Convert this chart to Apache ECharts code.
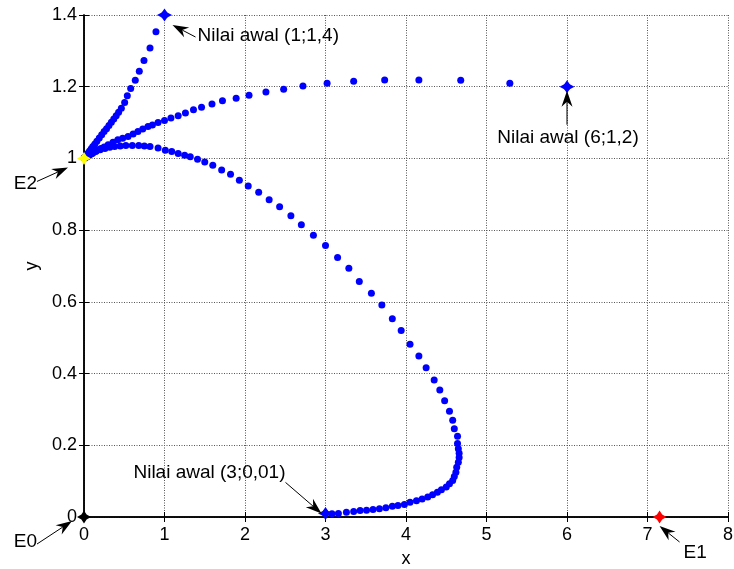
<!DOCTYPE html>
<html><head><meta charset="utf-8">
<script src="https://cdn.jsdelivr.net/npm/echarts@6/dist/echarts.min.js"></script>
<style>html,body{margin:0;padding:0;background:#fff}#c{width:734px;height:569px}</style>
</head><body><div id="c"></div>
<script>
// ---- data ----
const xTicks = [0,1,2,3,4,5,6,7,8];
const yTicks = [0,0.2,0.4,0.6,0.8,1,1.2,1.4];

// trajectory from initial value (1;1,4)
const trajA = [
 [1.0,1.4],[0.894,1.353],[0.82,1.308],[0.745,1.273],[0.687,1.243],[0.637,1.218],[0.58,1.195],
 [0.538,1.175],[0.505,1.156],[0.464,1.14],[0.43,1.129],[0.40,1.119],[0.37,1.11],[0.34,1.101],
 [0.31,1.092],[0.28,1.083],[0.25,1.075],[0.22,1.066],[0.19,1.057],[0.16,1.048],[0.135,1.04],
 [0.11,1.033],[0.09,1.027],[0.07,1.021],[0.055,1.016],[0.04,1.012],[0.028,1.008],[0.018,1.005],
 [0.01,1.003],[0.004,1.001]
];
// trajectory from initial value (6;1,2)
const trajB = [
 [6.0,1.2],[5.29,1.21],[4.68,1.218],[4.16,1.219],[3.735,1.219],[3.35,1.215],[3.02,1.21],[2.72,1.202],
 [2.48,1.193],[2.26,1.185],[2.05,1.176],[1.89,1.168],[1.72,1.161],[1.59,1.152],[1.46,1.143],
 [1.36,1.136],[1.26,1.127],[1.17,1.119],[1.08,1.113],[1.0,1.106],[0.92,1.1],[0.85,1.093],
 [0.795,1.089],[0.73,1.082],[0.67,1.075],[0.61,1.068],[0.547,1.061],[0.48,1.056],[0.42,1.052],
 [0.36,1.045],[0.3,1.038],[0.25,1.032],[0.21,1.028],[0.174,1.024],[0.14,1.019],[0.11,1.015],
 [0.09,1.013],[0.07,1.01],[0.05,1.007],[0.035,1.005],[0.022,1.003],[0.012,1.002],[0.005,1.001]
];
// trajectory from initial value (3;0,01)
const trajC = [
 [3.0,0.01],[3.08,0.009],[3.16,0.01],[3.26,0.013],[3.35,0.015],[3.43,0.018],[3.51,0.019],
 [3.59,0.021],[3.67,0.023],[3.75,0.026],[3.83,0.03],[3.9,0.032],[3.98,0.035],[4.05,0.041],
 [4.13,0.045],[4.2,0.05],[4.27,0.056],[4.33,0.062],[4.39,0.069],[4.44,0.076],[4.5,0.084],
 [4.54,0.093],[4.58,0.102],[4.6,0.113],[4.62,0.125],[4.63,0.139],[4.65,0.153],[4.66,0.166],
 [4.66,0.178],[4.65,0.19],[4.64,0.205],[4.64,0.225],[4.6,0.246],[4.58,0.27],[4.54,0.295],
 [4.48,0.324],[4.42,0.354],[4.35,0.382],[4.25,0.416],[4.16,0.449],[4.05,0.482],[3.94,0.52],
 [3.83,0.553],[3.7,0.591],[3.57,0.624],[3.42,0.657],[3.29,0.694],[3.15,0.724],[3.0,0.757],
 [2.85,0.786],[2.7,0.815],[2.57,0.84],[2.43,0.865],[2.3,0.885],[2.17,0.906],[2.04,0.923],
 [1.93,0.939],[1.82,0.956],[1.71,0.968],[1.6,0.981],[1.5,0.99],[1.41,0.998],[1.32,1.005],
 [1.25,1.009],[1.17,1.014],[1.09,1.019],[1.01,1.023],[0.92,1.029],[0.82,1.033],[0.75,1.035],
 [0.68,1.036],[0.6,1.036],[0.52,1.036],[0.45,1.035],[0.38,1.033],[0.32,1.031],[0.26,1.028],
 [0.2,1.024],[0.15,1.02],[0.1,1.014],[0.07,1.01],[0.05,1.007],[0.03,1.004],[0.015,1.002],[0.005,1.001]
];
const startPoints = [[1,1.4],[6,1.2],[3,0.01]];
const startLabels = ['Nilai awal (1;1,4)','Nilai awal (6;1,2)','Nilai awal (3;0,01)'];
const eqNames = ['E0','E1','E2'];
const eqPoints = [[0,0],[7.15,0],[0,1]];

// ---- styles / layout ----
const FONT = 'Liberation Sans, Arial, sans-serif';
const BLUE = '#0000ff';
const STAR = 'path://M0,-7 L2.6,-2.6 L7,0 L2.6,2.6 L0,7 L-2.6,2.6 L-7,0 L-2.6,-2.6 Z';
const eqColors = ['#000000','#ff0000','#ffff00'];
const grid = {left:84, top:15, right:6, bottom:52, containLabel:false, outerBoundsMode:'none'};

const chart = echarts.init(document.getElementById('c'), null, {renderer:'canvas'});

function axisBase(){
  return {
    axisLine:{show:true,lineStyle:{color:'#000',width:1.5}},
    axisTick:{show:true,inside:true,length:5,lineStyle:{color:'#000',width:1}},
    splitLine:{show:false}
  };
}
const xMin = xTicks[0], xMax = xTicks[xTicks.length-1], xInt = xTicks[1]-xTicks[0];
const yMin = yTicks[0], yMax = yTicks[yTicks.length-1], yInt = +(yTicks[1]-yTicks[0]).toFixed(6);
const dotStyle = {color:BLUE,opacity:1};

const option = {
  animation:false,
  backgroundColor:'#fff',
  grid:grid,
  xAxis:[
    Object.assign(axisBase(),{
      type:'value',min:xMin,max:xMax,interval:xInt,position:'bottom',
      name:'x',nameLocation:'middle',nameGap:33,
      nameTextStyle:{fontFamily:FONT,fontSize:18,color:'#000'},
      axisLabel:{fontFamily:FONT,fontSize:18,color:'#000',margin:9},
      splitLine:{show:true,lineStyle:{color:'#555',type:[1,1.5],width:1}}
    }),
    Object.assign(axisBase(),{
      type:'value',min:xMin,max:xMax,interval:xInt,position:'top',axisLabel:{show:false}
    })
  ],
  yAxis:[
    Object.assign(axisBase(),{
      type:'value',min:yMin,max:yMax,interval:yInt,position:'left',
      name:'y',nameLocation:'middle',nameGap:42,
      nameTextStyle:{fontFamily:FONT,fontSize:18,color:'#000'},
      axisLabel:{fontFamily:FONT,fontSize:18,color:'#000',margin:7},
      splitLine:{show:true,lineStyle:{color:'#555',type:[1,1.5],width:1}}
    }),
    Object.assign(axisBase(),{
      type:'value',min:yMin,max:yMax,interval:yInt,position:'right',axisLabel:{show:false}
    })
  ],
  series:[
    {type:'scatter',data:trajA,symbol:'circle',symbolSize:7,itemStyle:dotStyle,clip:false,z:3},
    {type:'scatter',data:trajB,symbol:'circle',symbolSize:7,itemStyle:dotStyle,clip:false,z:3},
    {type:'scatter',data:trajC,symbol:'circle',symbolSize:7,itemStyle:dotStyle,clip:false,z:3},
    {type:'scatter',data:startPoints,symbol:STAR,symbolSize:[15,13],itemStyle:dotStyle,clip:false,z:4},
    {type:'scatter',data:eqPoints.map((p,i)=>({value:p,itemStyle:{color:eqColors[i],opacity:1}})),
     symbol:STAR,symbolSize:[14,13],clip:false,z:5}
  ]
};
chart.setOption(option);

// ---- annotations (arrows + text), anchored on the data points ----
const annLayout = [
  {tip:[8,10],tail:[31,22],text:[33,21],align:'left'},
  {tip:[0,4],tail:[0,38],text:[1,51],align:'center'},
  {tip:[-4,0],tail:[-40,-31],text:[-40,-41],align:'right'}
];
const eqLayout = [
  {tip:[-12,4],tail:[-47,27],text:[-47,25],align:'right'},
  {tip:[0,9],tail:[20,25],text:[24,36],align:'left'},
  {tip:[-16,9],tail:[-47,23],text:[-47,25],align:'right'}
];
function arrowEls(tip, tail){
  const dx = tip[0]-tail[0], dy = tip[1]-tail[1];
  const d = Math.hypot(dx,dy); const ux=dx/d, uy=dy/d;
  const L=16, W=5.5, N=5;
  const bx = tip[0]-ux*L, by = tip[1]-uy*L;
  const nx = tip[0]-ux*(L-N), ny = tip[1]-uy*(L-N);
  const px=-uy, py=ux;
  return [
    {type:'line',shape:{x1:tail[0],y1:tail[1],x2:nx,y2:ny},style:{stroke:'#000',lineWidth:1},z:10},
    {type:'polygon',shape:{points:[[tip[0],tip[1]],[bx+px*W,by+py*W],[nx,ny],[bx-px*W,by-py*W]]},
     style:{fill:'#000'},z:10}
  ];
}
const els = [];
function addAnn(pt,lay,txt){
  const p = chart.convertToPixel({gridIndex:0},pt);
  const tip=[p[0]+lay.tip[0],p[1]+lay.tip[1]];
  const tail=[p[0]+lay.tail[0],p[1]+lay.tail[1]];
  els.push(...arrowEls(tip,tail));
  els.push({type:'text',x:p[0]+lay.text[0],y:p[1]+lay.text[1],z:10,
    style:{text:txt,fontFamily:FONT,fontSize:19,fill:'#000',align:lay.align,verticalAlign:'middle'}});
}
startPoints.forEach((pt,i)=>addAnn(pt,annLayout[i],startLabels[i]));
eqPoints.forEach((pt,i)=>addAnn(pt,eqLayout[i],eqNames[i]));
chart.setOption({graphic:{elements:els}});
</script></body></html>
